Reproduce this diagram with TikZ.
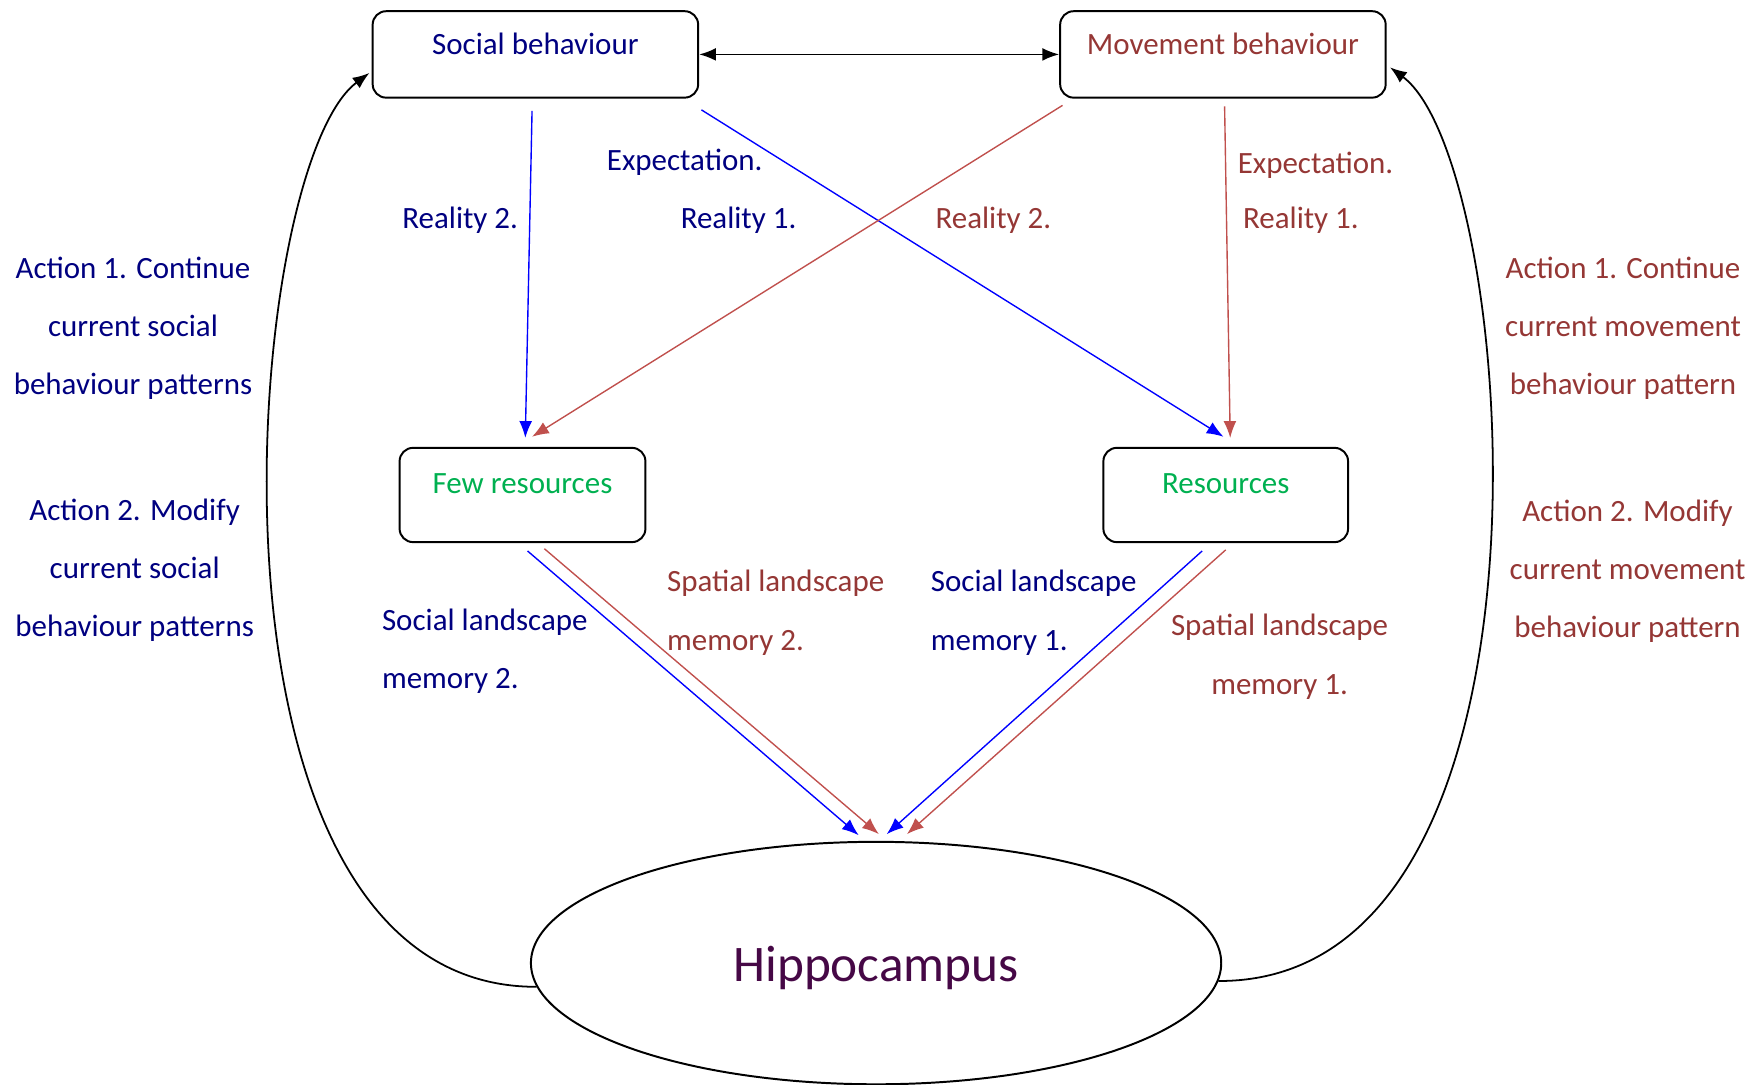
\documentclass[tikz,border=0pt]{standalone}
\usepackage{fontspec}
\setmainfont{Carlito}
\usepackage{xcolor}
\usepackage{tikz}
\usetikzlibrary{calc,arrows.meta,shapes.geometric}

\definecolor{socblue}{RGB}{0,0,128}
\definecolor{movred}{RGB}{149,55,53}
\definecolor{arrblue}{RGB}{0,0,255}
\definecolor{arrred}{RGB}{192,80,77}
\definecolor{resgreen}{RGB}{0,176,80}
\definecolor{hippurple}{RGB}{70,8,70}

\begin{document}
\begin{tikzpicture}[>={Latex[length=8.5pt,width=6.5pt]},
    every node/.style={inner sep=0pt, font=\fontsize{15.7}{29.6}\selectfont},
    bhvbox/.style={draw, line width=1pt, rounded corners=0.24cm,
        minimum width=5.8cm, text height=0.77cm, text depth=0.77cm},
    resbox/.style={draw, line width=1pt, rounded corners=0.24cm, text=resgreen,
        text height=0.81cm, text depth=0.87cm},
    soctext/.style={text=socblue, align=center},
    movtext/.style={text=movred, align=center},
    socarrow/.style={->, draw=arrblue, line width=0.7pt},
    movarrow/.style={->, draw=arrred, line width=0.7pt},
    loop/.style={->, line width=0.9pt}]

    \useasboundingbox (0,0) rectangle (31.36,19.32);

    % -- Behaviour boxes on top --
    \node[bhvbox, text=socblue] (soc) at (9.54,18.35) {Social behaviour};
    \node[bhvbox, text=movred] (mov) at (21.79,18.35) {Movement behaviour};

    % -- Resource boxes in the middle --
    \node[resbox, minimum width=4.38cm] (few) at (9.31,10.5) {Few resources};
    \node[resbox, minimum width=4.36cm] (res) at (21.84,10.5) {Resources};

    % -- Hippocampus at the bottom --
    \node[draw, ellipse, line width=1pt, minimum width=12.3cm, minimum height=4.32cm,
          text height=0.86cm, text depth=0.2cm,
          text=hippurple, font=\fontsize{26}{30}\selectfont] (hippo) at (15.61,2.16)
        {Hippocampus};

    % -- Labels of the arrows --
    \node[soctext] (expsoc) at (12.2,16.42) {Expectation.};
    \node[soctext] (realsoc2) at (8.2,15.4) {Reality 2.};
    \node[soctext] (realsoc1) at (13.16,15.4) {Reality 1.};
    \node[movtext] (realmov2) at (17.7,15.4) {Reality 2.};
    \node[movtext] (expmov) at (23.44,16.38) {Expectation.};
    \node[movtext] (realmov1) at (23.18,15.4) {Reality 1.};

    \node[soctext, align=left, anchor=west] (socmem2) at (6.8,7.72)
        {Social landscape\\memory 2.};
    \node[movtext, align=left, anchor=west] (spamem2) at (11.88,8.4)
        {Spatial landscape\\memory 2.};
    \node[soctext, align=left, anchor=west] (socmem1) at (16.58,8.4)
        {Social landscape\\memory 1.};
    \node[movtext] (spamem1) at (22.8,7.62)
        {Spatial landscape\\memory 1.};

    % -- Actions on both sides --
    \node[soctext] (socact1) at (2.37,13.47)
        {Action 1. Continue\\current social\\behaviour patterns};
    \node[soctext] (socact2) at (2.4,9.16)
        {Action 2. Modify\\current social\\behaviour patterns};
    \node[movtext] (movact1) at (28.92,13.47)
        {Action 1. Continue\\current movement\\behaviour pattern};
    \node[movtext] (movact2) at (29.0,9.14)
        {Action 2. Modify\\current movement\\behaviour pattern};

    % -- Arrows --
    % between the behaviours
    \draw[<->, line width=0.9pt] (soc.east) -- (mov.west);

    % behaviours to resources
    \draw[socarrow] ($(soc.south)+(-0.06,-0.22)$) -- ($(few.north)+(0.05,0.16)$);
    \draw[socarrow] ($(soc.south east)+(0.04,-0.2)$) -- ($(res.north)+(-0.04,0.18)$);
    \draw[movarrow] ($(mov.south west)+(0.06,-0.12)$) -- ($(few.north)+(0.17,0.18)$);
    \draw[movarrow] ($(mov.south)+(0.03,-0.14)$) -- ($(res.north)+(0.08,0.16)$);

    % resources to hippocampus
    \draw[socarrow] ($(few.south)+(0.09,-0.14)$) -- ($(hippo.north)+(-0.31,0.1)$);
    \draw[movarrow] ($(few.south)+(0.39,-0.1)$) -- ($(hippo.north)+(0.05,0.12)$);
    \draw[socarrow] ($(res.south)+(-0.42,-0.14)$) -- ($(hippo.north)+(0.19,0.12)$);
    \draw[movarrow] ($(res.south)+(0,-0.12)$) -- ($(hippo.north)+(0.55,0.12)$);

    % hippocampus back to the behaviours
    \draw[loop] (hippo.184) .. controls (3.2,1.72) and (4.3,16.32)
        .. ($(soc.west)+(-0.04,-0.33)$);
    \draw[loop] (hippo.-3) .. controls (28.16,1.82) and (27.06,16.42)
        .. ($(mov.east)+(0.06,-0.23)$);

\end{tikzpicture}
\end{document}
